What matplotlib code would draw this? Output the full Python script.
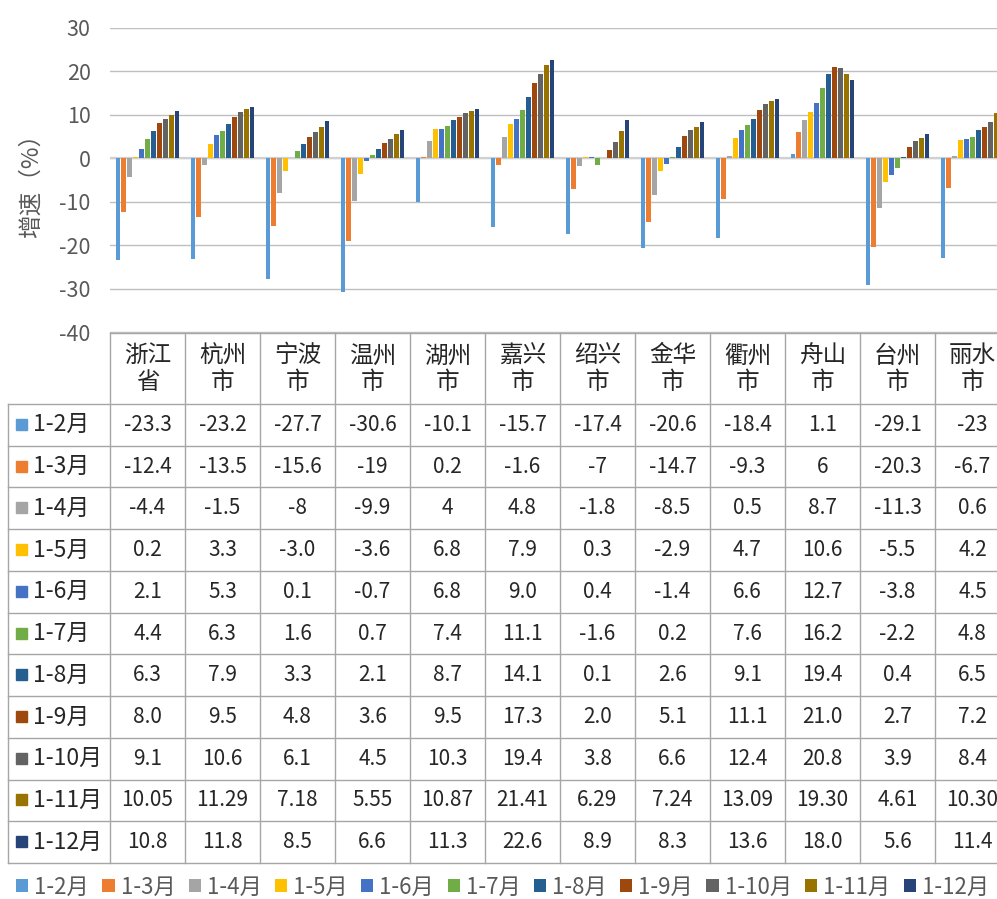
import matplotlib
matplotlib.use("Agg")
import matplotlib.pyplot as plt
from matplotlib.patches import Patch, Rectangle
import numpy as np

plt.rcParams['font.family'] = ['Noto Sans CJK SC', 'DejaVu Sans']

cities = ['浙江省', '杭州市', '宁波市', '温州市', '湖州市', '嘉兴市',
          '绍兴市', '金华市', '衢州市', '舟山市', '台州市', '丽水市']
periods = ['1-2月', '1-3月', '1-4月', '1-5月', '1-6月', '1-7月',
           '1-8月', '1-9月', '1-10月', '1-11月', '1-12月']

v_1_2 = ['-23.3', '-23.2', '-27.7', '-30.6', '-10.1', '-15.7', '-17.4', '-20.6', '-18.4', '1.1', '-29.1', '-23']
v_1_3 = ['-12.4', '-13.5', '-15.6', '-19', '0.2', '-1.6', '-7', '-14.7', '-9.3', '6', '-20.3', '-6.7']
v_1_4 = ['-4.4', '-1.5', '-8', '-9.9', '4', '4.8', '-1.8', '-8.5', '0.5', '8.7', '-11.3', '0.6']
v_1_5 = ['0.2', '3.3', '-3.0', '-3.6', '6.8', '7.9', '0.3', '-2.9', '4.7', '10.6', '-5.5', '4.2']
v_1_6 = ['2.1', '5.3', '0.1', '-0.7', '6.8', '9.0', '0.4', '-1.4', '6.6', '12.7', '-3.8', '4.5']
v_1_7 = ['4.4', '6.3', '1.6', '0.7', '7.4', '11.1', '-1.6', '0.2', '7.6', '16.2', '-2.2', '4.8']
v_1_8 = ['6.3', '7.9', '3.3', '2.1', '8.7', '14.1', '0.1', '2.6', '9.1', '19.4', '0.4', '6.5']
v_1_9 = ['8.0', '9.5', '4.8', '3.6', '9.5', '17.3', '2.0', '5.1', '11.1', '21.0', '2.7', '7.2']
v_1_10 = ['9.1', '10.6', '6.1', '4.5', '10.3', '19.4', '3.8', '6.6', '12.4', '20.8', '3.9', '8.4']
v_1_11 = ['10.05', '11.29', '7.18', '5.55', '10.87', '21.41', '6.29', '7.24', '13.09', '19.30', '4.61', '10.30']
v_1_12 = ['10.8', '11.8', '8.5', '6.6', '11.3', '22.6', '8.9', '8.3', '13.6', '18.0', '5.6', '11.4']
series = [v_1_2, v_1_3, v_1_4, v_1_5, v_1_6, v_1_7, v_1_8, v_1_9, v_1_10, v_1_11, v_1_12]

colors = ['#5B9BD5', '#ED7D31', '#A5A5A5', '#FFC000', '#4472C4', '#70AD47',
          '#255E91', '#9E480E', '#636363', '#997300', '#264478']

yticks = [-40, -30, -20, -10, 0, 10, 20, 30]

W, H = 997, 899
fig = plt.figure(figsize=(W / 100, H / 100), dpi=100)

# layout in pixels
ax_left, ax_right, ax_top, ax_bot = 110, 1010, 27.7, 332.5
col_w = (ax_right - ax_left) / len(cities)
ax = fig.add_axes([ax_left / W, 1 - ax_bot / H, (ax_right - ax_left) / W, (ax_bot - ax_top) / H])
ax.set_xlim(0, len(cities))
ax.set_ylim(-40, 30)

x = np.arange(len(cities))
step = 0.079
bw = 0.062
n = len(periods)
for i, (lab, vals, c) in enumerate(zip(periods, series, colors)):
    off = (i - (n - 1) / 2) * step
    ax.bar(x + 0.5 + off, [float(v) for v in vals], width=bw, color=c, zorder=3, label=lab)

ax.set_yticks(yticks)
ax.set_yticklabels([str(t) for t in yticks], fontsize=15.5, color='#595959')
ax.tick_params(axis='y', length=0, pad=14)
ax.set_xticks([])
for s in ax.spines.values():
    s.set_visible(False)
ax.yaxis.grid(True, color='#BFBFBF', lw=1, zorder=0)
ax.axhline(0, color='#D0D0D0', lw=1.6, zorder=2)
ax.set_ylabel('增速（%）', fontsize=17, color='#595959')
ax.yaxis.set_label_coords(-0.0744, 0.5)
ax.patch.set_alpha(0)

# table overlay in pixel coordinates
tab = fig.add_axes([0, 0, 1, 1], zorder=5)
tab.set_xlim(0, W)
tab.set_ylim(H, 0)
tab.axis('off')
tab.patch.set_alpha(0)

line_c = '#A6A6A6'
head_top, head_bot = 332.5, 404
row_h = (863 - 404) / len(periods)
row_left = 8
tbl_bot = head_bot + row_h * len(periods)

tab.plot([ax_left, ax_right], [head_top, head_top], color=line_c, lw=1)
for r in range(len(periods) + 1):
    yy = head_bot + r * row_h
    tab.plot([row_left, ax_right], [yy, yy], color=line_c, lw=1)
tab.plot([row_left, row_left], [head_bot, tbl_bot], color=line_c, lw=1)
for k in range(len(cities) + 1):
    xx = ax_left + k * col_w
    tab.plot([xx, xx], [head_top, tbl_bot], color=line_c, lw=1)

for k, name in enumerate(cities):
    cx = ax_left + (k + 0.5) * col_w
    tab.text(cx, (head_top + head_bot) / 2 + 1, name[:2] + '\n' + name[2:], ha='center', va='center',
             fontsize=17, color='#262626', linespacing=1.2)

for r, (lab, vals, c) in enumerate(zip(periods, series, colors)):
    cy = head_bot + (r + 0.5) * row_h
    tab.add_patch(Rectangle((16, cy - 6), 11, 11, color=c))
    tab.text(33, cy, lab, ha='left', va='center', fontsize=16.5, color='#262626')
    for k, v in enumerate(vals):
        cx = ax_left + (k + 0.5) * col_w
        tab.text(cx, cy, v, ha='center', va='center', fontsize=15, color='#262626')

handles = [Patch(facecolor=c, edgecolor='none') for c in colors]
fig.legend(handles, periods, loc='center', bbox_to_anchor=(0.504, 1 - 887 / H), ncol=len(periods),
           frameon=False, fontsize=16, handlelength=0.55, handleheight=0.55, handletextpad=0.27,
           columnspacing=0.6, labelcolor='#595959')

fig.savefig('out.png', dpi=100)
